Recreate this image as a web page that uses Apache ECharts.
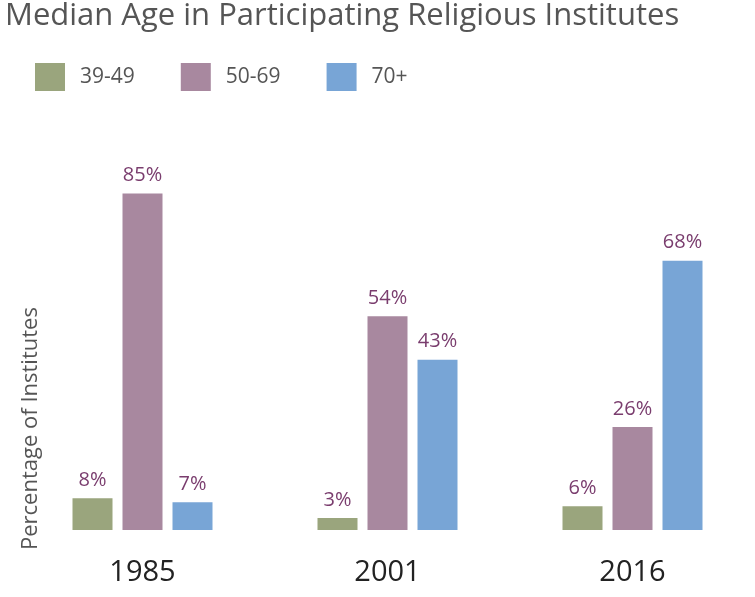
<!DOCTYPE html><html><head><meta charset="utf-8"><script src="https://cdn.jsdelivr.net/npm/echarts@6/dist/echarts.min.js"></script></head><body style="margin:0"><div id="c" style="width:755px;height:597px"></div><script>
const years=['1985','2001','2016'];
const s3949=[8,3,6];
const s5069=[85,54,26];
const s70=[7,43,68];
const ch=echarts.init(document.getElementById('c'));
const lab={show:true,position:'top',formatter:'{c}%',color:'#7a3d6e',fontSize:20,fontFamily:'Open Sans',distance:8};
ch.setOption({
title:{text:'Median Age in Participating Religious Institutes',left:0,top:-4,textStyle:{fontFamily:'Open Sans',fontSize:31,fontWeight:'normal',color:'#555'}},
legend:{left:30,top:58,icon:'rect',itemWidth:30,itemHeight:28,itemGap:46,textStyle:{fontFamily:'Open Sans',fontSize:21,color:'#555',padding:[0,0,0,10]},data:['39-49','50-69','70+']},
grid:{left:20,width:792,top:134,bottom:67},
xAxis:{type:'category',data:years,axisLine:{show:false},axisTick:{show:false},axisLabel:{fontFamily:'Open Sans',fontSize:29,color:'#222',margin:28}},
yAxis:{type:'value',min:0,max:100,show:true,splitLine:{show:false},axisLabel:{show:false},axisLine:{show:false},axisTick:{show:false},name:'Percentage of Institutes',nameLocation:'start',nameRotate:90,nameGap:0,nameTextStyle:{fontFamily:'Open Sans',fontSize:22,color:'#555',align:'left',verticalAlign:'top',padding:[0,0,0,-20]}},
series:[
{name:'39-49',type:'bar',data:s3949,barWidth:40,barGap:'25%',itemStyle:{color:'#9aa57d'},label:lab},
{name:'50-69',type:'bar',data:s5069,barWidth:40,itemStyle:{color:'#a8889f'},label:lab},
{name:'70+',type:'bar',data:s70,barWidth:40,itemStyle:{color:'#78a5d6'},label:lab}]
});
</script></body></html>
